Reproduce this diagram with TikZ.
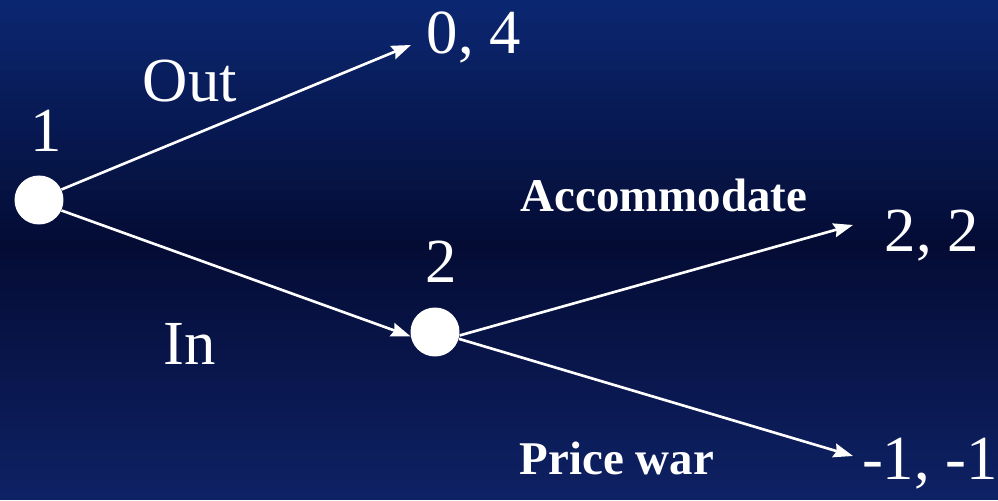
\documentclass[tikz,border=0pt]{standalone}
\usepackage{fontspec}
\setmainfont{Liberation Serif}
\usetikzlibrary{arrows,arrows.meta}
\usetikzlibrary{calc}
\definecolor{bgtop}{RGB}{11,38,112}
\definecolor{bgmid}{RGB}{4,12,52}
\definecolor{bgbot}{RGB}{14,32,98}
\tikzset{>={Stealth[length=3.9mm,width=2.8mm,inset=0.5mm]}}
\tikzstyle{branch} = [line width = 1.5pt, color = white]
\tikzstyle{decision} = [circle, fill = white, inner sep = 0pt, minimum size = 0.98cm]
\tikzstyle{lbl} = [text = white, anchor = base, inner sep = 0pt,
                   font = \fontsize{35.7}{40}\selectfont]
\tikzstyle{move} = [text = white, anchor = base, inner sep = 0pt,
                    font = \fontsize{26.7}{30}\selectfont\bfseries]

\begin{document}
\begin{tikzpicture}[x=0.02cm,y=-0.02cm]
  % BACKGROUND (strips, dark in the middle)
  \foreach \i [evaluate={\y=\i*10; \p=int(100*(1-abs(\i-24)/24));}] in {0,...,49}{
    \ifnum\i<25
      \colorlet{stripcol}{bgmid!\p!bgtop}
    \else
      \colorlet{stripcol}{bgmid!\p!bgbot}
    \fi
    \fill[stripcol] (0,\y) rectangle (998,\y+10.5);
  }
  \useasboundingbox (0,0) rectangle (998,491);

  % NODES
  \node[decision] (n1) at (39,200) {};
  \node[decision] (n2) at (435,332) {};
  \coordinate (out) at (411,45);
  \coordinate (acc) at (853,225);
  \coordinate (war) at (853,456);

  % BRANCHES
  \draw[branch,->] (n1.25) -- (out);
  \draw[branch,->] (n1.-25) -- (n2.190);
  \draw[branch,->] (n2.-8) -- (acc);
  \draw[branch,->] (n2.-16) -- (war);

  % LABELS
  \node[lbl] (p1) at (46,152) {1};
  \node[lbl] (p2) at (441,283) {2};
  \node[lbl] (lout) at (190,102) {Out};
  \node[lbl] (lin) at (190,365) {In};
  \node[move] (lacc) at (664,212) {Accommodate};
  \node[move] (lwar) at (617,475) {Price war};
  \node[lbl] (vout) at (474,54) {0, 4};
  \node[lbl] (vacc) at (932,252) {2, 2};
  \node[lbl] (vwar) at (930,480) {-1, -1};
\end{tikzpicture}
\end{document}
